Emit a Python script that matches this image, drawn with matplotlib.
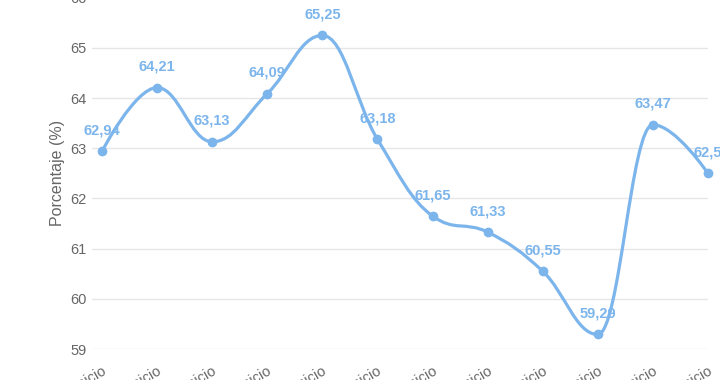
import matplotlib
matplotlib.use("Agg")
import matplotlib.pyplot as plt
from matplotlib.path import Path
from matplotlib.patches import PathPatch

plt.rcParams['font.family'] = ['Liberation Sans', 'DejaVu Sans']

# data
labels = ["Inicio"] * 12
values = [62.94, 64.21, 63.13, 64.09, 65.25, 63.18, 61.65, 61.33, 60.55, 59.29, 63.47, 62.5]
value_text = ["62,94", "64,21", "63,13", "64,09", "65,25", "63,18", "61,65", "61,33",
              "60,55", "59,29", "63,47", "62,5"]
y_ticks = [59, 60, 61, 62, 63, 64, 65, 66]

line_color = "#7cb5ec"
W, H = 720, 380


def spline_path(xs, ys, smoothing=1.5):
    # highcharts-like spline: control points without false extremes
    denom = smoothing + 1
    n = len(xs)
    left = [None] * n
    right = [None] * n
    for i in range(1, n - 1):
        lx, ly = xs[i - 1], ys[i - 1]
        px, py = xs[i], ys[i]
        nx, ny = xs[i + 1], ys[i + 1]
        lcx = (smoothing * px + lx) / denom
        lcy = (smoothing * py + ly) / denom
        rcx = (smoothing * px + nx) / denom
        rcy = (smoothing * py + ny) / denom
        corr = 0
        if rcx != lcx:
            corr = (rcy - lcy) * (rcx - px) / (rcx - lcx) + py - rcy
        lcy += corr
        rcy += corr
        if lcy > ly and lcy > py:
            lcy = max(ly, py)
            rcy = 2 * py - lcy
        elif lcy < ly and lcy < py:
            lcy = min(ly, py)
            rcy = 2 * py - lcy
        if rcy > ny and rcy > py:
            rcy = max(ny, py)
            lcy = 2 * py - rcy
        elif rcy < ny and rcy < py:
            rcy = min(ny, py)
            lcy = 2 * py - rcy
        left[i] = (lcx, lcy)
        right[i] = (rcx, rcy)
    verts = [(xs[0], ys[0])]
    codes = [Path.MOVETO]
    for i in range(1, n):
        c1 = right[i - 1] if right[i - 1] else (xs[i - 1], ys[i - 1])
        c2 = left[i] if left[i] else (xs[i], ys[i])
        verts += [c1, c2, (xs[i], ys[i])]
        codes += [Path.CURVE4] * 3
    return Path(verts, codes)


fig = plt.figure(figsize=(W / 100, H / 100), dpi=100)
ax = fig.add_axes([92 / W, 31 / H, 616 / W, 351.2 / H])

x = list(range(len(values)))
ax.set_xlim(-10 / 55.09, 11)
ax.set_ylim(59, 66)

ax.set_yticks(y_ticks)
ax.set_yticklabels([str(t) for t in y_ticks])
ax.grid(axis='y', color='#e6e6e6', linewidth=1)
ax.set_axisbelow(True)
for s in ax.spines.values():
    s.set_visible(False)
ax.tick_params(axis='y', length=0, pad=4, labelsize=10.5, labelcolor='#666666')
ax.tick_params(axis='x', length=0, pad=10, labelsize=10.5, labelcolor='#666666')
ax.set_xticks(x)
ax.set_xticklabels(labels, rotation=30, ha='right', rotation_mode='anchor')

ax.set_ylabel("Porcentaje (%)", fontsize=11.5, color='#666666', labelpad=4)

patch = PathPatch(spline_path(x, values), facecolor='none', edgecolor=line_color,
                  linewidth=2.3, clip_on=False, capstyle='round', joinstyle='round')
ax.add_patch(patch)
ax.plot(x, values, 'o', color=line_color, markersize=6, clip_on=False, zorder=3)

for xi, v, t in zip(x, values, value_text):
    ax.annotate(t, (xi, v), xytext=(0, 14), textcoords='offset pixels',
                ha='center', va='bottom', fontsize=10.5, fontweight='bold',
                color=line_color, annotation_clip=False)

fig.savefig("out.png", dpi=100)
